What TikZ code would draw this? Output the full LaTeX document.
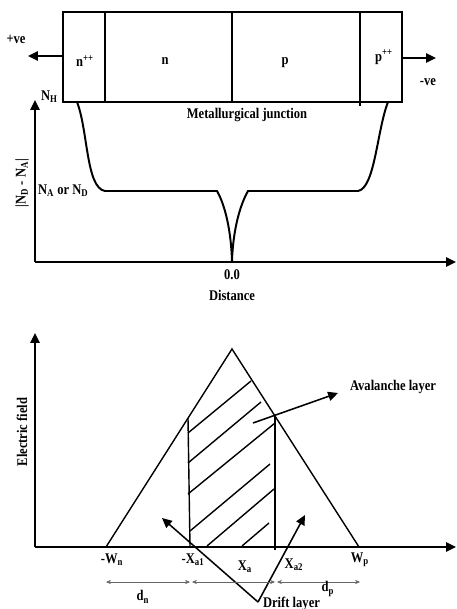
\documentclass[tikz,border=0pt]{standalone}
\usepackage{fontspec}
\setmainfont[FakeStretch=0.85]{Liberation Serif}
\usetikzlibrary{arrows.meta}

\begin{document}
\begin{tikzpicture}[x=0.025cm,y=-0.025cm,line width=1pt,font=\fontsize{10.5}{12}\selectfont\bfseries,
  thick/.style={line width=1.5pt},
  bigarrow/.style={line width=1.5pt,-{Triangle[length=7pt,width=6.5pt]}},
  dim/.style={line width=.4pt,black!60,{Stealth[length=3.5pt,width=3pt]}-{Stealth[length=3.5pt,width=3pt]}},
  lbl/.style={inner sep=1pt}]
\useasboundingbox (0,0) rectangle (456,609);
% diode
\draw[thick] (63,12) rectangle (402,102);
\draw[thick] (105,12)--(105,102) (232,12)--(232,102) (360,12)--(360,106);
\node[lbl] (npp) at (85,61) {n\textsuperscript{++}};
\node[lbl] (n) at (165,61) {n};
\node[lbl] (p) at (285,63) {p};
\node[lbl] (ppp) at (384,57) {p\textsuperscript{++}};
\coordinate (diodeW) at (63,56);
\coordinate (diodeE) at (402,58);
\coordinate (plusEnd) at (28,56);
\coordinate (minusEnd) at (436,58);
\draw[bigarrow] (diodeW)--(plusEnd);
\draw[bigarrow] (diodeE)--(minusEnd);
\node[lbl] (plus) at (16,39) {+ve};
\node[lbl] (minus) at (428,82) {-ve};
\node[lbl] (junction) at (247,115) {Metallurgical junction};
% doping profile
\coordinate (O1) at (35,262);
\draw[bigarrow] (O1)--(35,100);
\draw[bigarrow] (O1)--(456,262);
\node[lbl,anchor=west] (NH) at (39,97) {N\textsubscript{H}};
\node[lbl,rotate=90] (ylab1) at (22,183) {|N\textsubscript{D} - N\textsubscript{A}|};
\node[lbl,anchor=west] (NAND) at (36,191) {N\textsubscript{A} or N\textsubscript{D}};
\draw[line width=1.4pt] (77,102) .. controls (88,130) and (86,188) .. (105,191)
  -- (217,191) .. controls (225,205) and (231,230) .. (232,261)
  .. controls (233,230) and (240,205) .. (248,191)
  -- (358,191) .. controls (375,188) and (377,130) .. (388,102);
\node[lbl] (zero) at (232,275) {0.0};
\node[lbl] (dist) at (232,295) {Distance};
% electric field
\coordinate (O2) at (35,547);
\draw[bigarrow] (O2)--(35,333);
\draw[bigarrow] (O2)--(456,547);
\node[lbl,rotate=90] (ylab2) at (22,432) {Electric field};
\draw (106,547)--(232,349)--(359,547);
\draw (188,418)--(190,547);
\draw (275,416)--(275,550);
\draw (188,433)--(251,381) (188,463)--(261,402) (188,494)--(275,423)
  (190,531)--(270,464) (207,546)--(274,489) (242,546)--(269,523);
\coordinate (avStart) at (253,423);
\coordinate (avEnd) at (338,393);
\draw[bigarrow,line width=1.1pt] (avStart)--(avEnd);
\node[lbl] (aval) at (393,387) {Avalanche layer};
\coordinate (drift) at (258,602);
\draw[bigarrow,line width=1.1pt] (drift)--(162,518);
\draw[bigarrow,line width=1.1pt] (drift)--(305,515);
\node[lbl,anchor=west] (driftlab) at (261,604) {Drift layer};
% labels on the axis
\node[lbl] (Wn) at (112,560) {-W\textsubscript{n}};
\node[lbl] (Xa1) at (193,560) {-X\textsubscript{a1}};
\node[lbl] (Xa) at (245,567) {X\textsubscript{a}};
\node[lbl] (Xa2) at (294,565) {X\textsubscript{a2}};
\node[lbl] (Wp) at (360,560) {W\textsubscript{p}};
\draw[dim] (106,582)--(190,582);
\draw[dim] (192,582)--(275,582);
\draw[dim] (277,582)--(360,582);
\node[lbl] (dn) at (143,597) {d\textsubscript{n}};
\node[lbl] (dp) at (328,589) {d\textsubscript{p}};
\end{tikzpicture}
\end{document}
